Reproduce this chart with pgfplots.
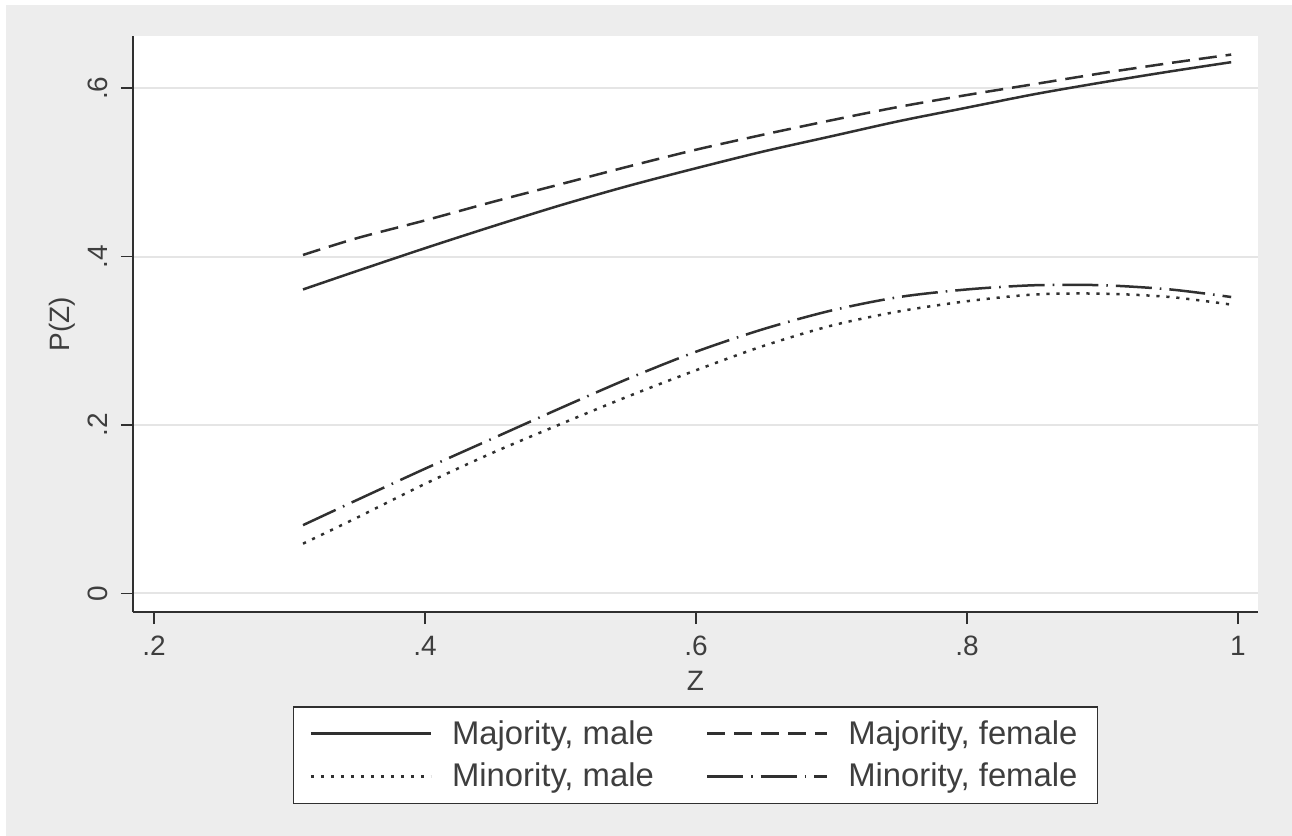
\documentclass[border=0pt]{standalone}
\usepackage{fontspec}
\setmainfont{Liberation Sans}
\usepackage{pgfplots}
\pgfplotsset{compat=1.18}
\definecolor{bgray}{RGB}{237,237,237}
\definecolor{gridc}{RGB}{229,229,229}
\definecolor{ink}{RGB}{48,48,48}
\definecolor{txt}{RGB}{62,62,62}

\begin{document}
\begin{tikzpicture}
% outer frame, 1px = 0.5pt
\fill[white] (-66.5pt,-112pt) rectangle (579.5pt,306pt);
\fill[bgray] (-63.5pt,-112pt) rectangle (579.5pt,303.5pt);
\fill[white] (0,0) rectangle (562.5pt,288pt);
\begin{axis}[
  scale only axis, width=562.5pt, height=288pt,
  at={(0,0)}, anchor=south west,
  xmin=0.1845, xmax=1.0148, ymin=-0.0222, ymax=0.6621,
  axis x line*=bottom, axis y line*=left,
  axis line style={ink, line width=0.8pt, -},
  xtick={0.2,0.4,0.6,0.8,1}, xticklabels={.2,.4,.6,.8,1},
  ytick={0,0.2,0.4,0.6}, yticklabels={0,.2,.4,.6},
  tick align=outside, major tick length=6pt,
  tick style={ink, line width=0.8pt},
  ymajorgrids, grid style={gridc, line width=1pt},
  /pgf/number format/assume math mode=true,
  ticklabel style={font=\fontsize{14pt}{16pt}\selectfont, text=txt},
  xticklabel style={inner sep=0pt, anchor=north, yshift=-6pt},
  yticklabel style={rotate=90, anchor=south, inner sep=0pt},
  yticklabel shift=6.5pt,
  every axis x label/.style={at={(axis description cs:0.5,-0.1198)}, anchor=center,
    font=\fontsize{14pt}{16pt}\selectfont, text=txt},
  every axis y label/.style={at={(axis description cs:-0.0631,0.5)}, rotate=90, anchor=center,
    font=\fontsize{14pt}{16pt}\selectfont, text=txt},
  xlabel={Z}, ylabel={P(Z)},
  legend columns=2,
  legend cell align=left,
  legend image code/.code={\draw[#1] (0pt,0pt) -- (60pt,0pt);},
  legend style={at={(axis description cs:0.5,-0.1632)}, anchor=north,
    draw=ink, line width=0.8pt, fill=white,
    inner xsep=8pt, inner ysep=4.75pt,
    font=\fontsize{16.4pt}{18pt}\selectfont, text=txt,
    row sep=4pt, column sep=8pt,
    /tikz/every even column/.append style={column sep=24pt}},
  every axis plot/.append style={ink, line width=1.25pt, smooth},
]
\addplot[solid] coordinates {
(0.31,0.361) (0.35,0.383) (0.40,0.410) (0.45,0.436) (0.50,0.461) (0.55,0.484)
(0.60,0.505) (0.65,0.525) (0.70,0.543) (0.75,0.561) (0.80,0.577) (0.85,0.593)
(0.90,0.607) (0.95,0.620) (0.995,0.631)};
\addlegendentry{Majority, male}
\addplot[dash pattern=on 9pt off 4.5pt] coordinates {
(0.31,0.402) (0.35,0.422) (0.40,0.443) (0.45,0.465) (0.50,0.486) (0.55,0.507)
(0.60,0.527) (0.65,0.545) (0.70,0.562) (0.75,0.578) (0.80,0.592) (0.85,0.605)
(0.90,0.618) (0.95,0.630) (0.995,0.640)};
\addlegendentry{Majority, female}
\addplot[dash pattern=on 1.6pt off 3.4pt] coordinates {
(0.31,0.059) (0.35,0.090) (0.40,0.130) (0.45,0.167) (0.50,0.201) (0.55,0.234)
(0.60,0.265) (0.65,0.294) (0.70,0.318) (0.75,0.335) (0.80,0.347) (0.85,0.355)
(0.90,0.356) (0.95,0.352) (0.995,0.343)};
\addlegendentry{Minority, male}
\addplot[dash pattern=on 18pt off 4pt on 0.8pt off 4pt] coordinates {
(0.31,0.081) (0.35,0.111) (0.40,0.148) (0.45,0.184) (0.50,0.220) (0.55,0.255)
(0.60,0.287) (0.65,0.314) (0.70,0.336) (0.75,0.352) (0.80,0.361) (0.85,0.366)
(0.90,0.366) (0.95,0.361) (0.995,0.352)};
\addlegendentry{Minority, female}
\end{axis}
\end{tikzpicture}
\end{document}
